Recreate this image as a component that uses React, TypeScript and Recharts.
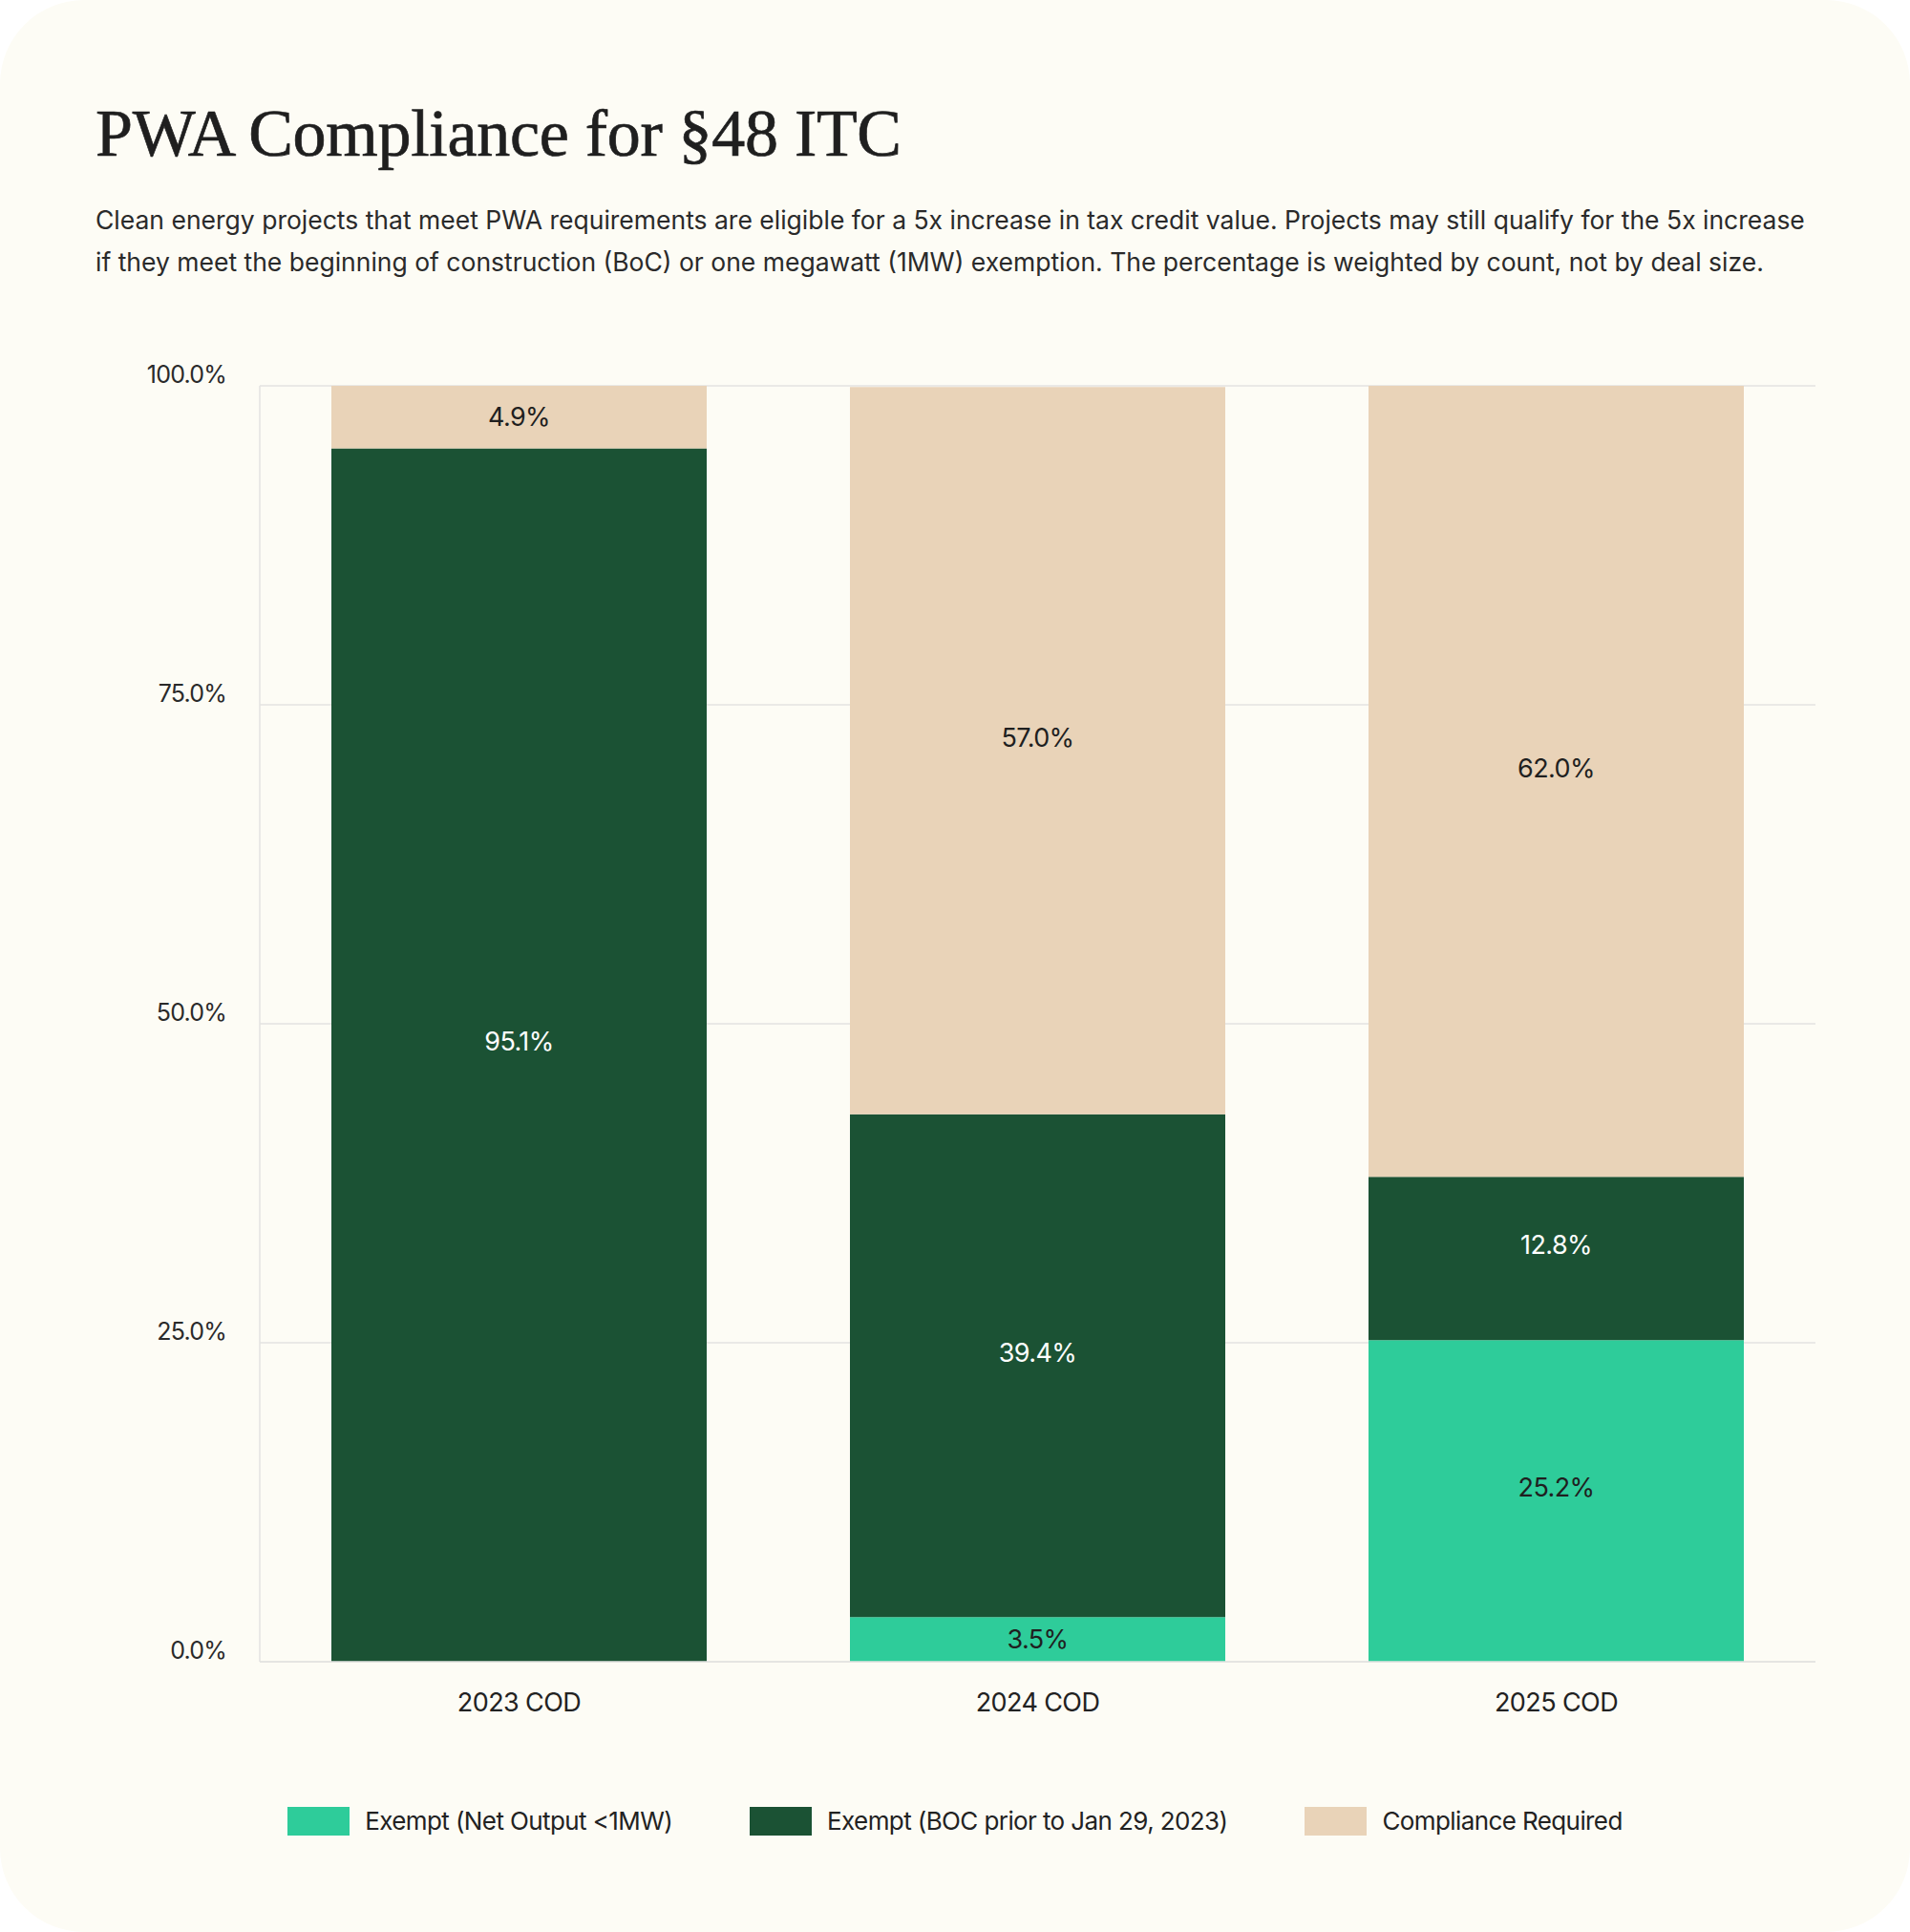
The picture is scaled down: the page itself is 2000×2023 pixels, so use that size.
import { BarChart, Bar, XAxis, YAxis, CartesianGrid, LabelList, Legend } from "recharts";

const categories = ["2023 COD", "2024 COD", "2025 COD"];
const exemptNetOutput = [0, 3.5, 25.2];
const exemptBoc = [95.1, 39.4, 12.8];
const complianceRequired = [4.9, 57.0, 62.0];
const yTicks = [0, 25, 50, 75, 100];

const seriesNames = [
  "Exempt (Net Output <1MW)",
  "Exempt (BOC prior to Jan 29, 2023)",
  "Compliance Required",
];
const seriesColors = ["#2ECC9A", "#1B5234", "#E9D3B8"];
const labelColors = ["#1f1f1f", "#ffffff", "#1f1f1f"];

const data = categories.map((name, i) => ({
  name,
  netOutput: exemptNetOutput[i],
  boc: exemptBoc[i],
  compliance: complianceRequired[i],
}));

const seriesKeys = ["netOutput", "boc", "compliance"];

const SANS = "Inter, 'Noto Sans', sans-serif";
const TEXT = "#222222";
const GRID = "#E3E3E1";

function YTick({ x, y, payload }: any) {
  return (
    <text
      x={x}
      y={y - 12}
      textAnchor="end"
      dominantBaseline="central"
      fill="#2a2a2a"
      fontSize={25}
      fontFamily={SANS}
      letterSpacing={-0.8}
    >
      {Number(payload.value).toFixed(1)}%
    </text>
  );
}

function XTick({ x, y, payload }: any) {
  return (
    <text
      x={x}
      y={y}
      textAnchor="middle"
      dominantBaseline="central"
      fill={TEXT}
      fontSize={27}
      fontFamily={SANS}
      letterSpacing={-0.6}
    >
      {payload.value}
    </text>
  );
}

function makeLabel(color: string) {
  return (props: any) => {
    const { x, y, width, height, value } = props;
    if (!value) return null;
    const lift = height > 100 ? 14 : 0;
    return (
      <text
        x={x + width / 2}
        y={y + height / 2 - lift}
        textAnchor="middle"
        dominantBaseline="central"
        fill={color}
        fontSize={27}
        fontFamily={SANS}
        letterSpacing={-0.6}
      >
        {Number(value).toFixed(1)}%
      </text>
    );
  };
}

function LegendContent() {
  return (
    <div
      style={{
        display: "flex",
        justifyContent: "center",
        alignItems: "center",
        gap: 81,
        fontFamily: SANS,
        fontSize: 26,
        color: TEXT,
        letterSpacing: -0.6,
      }}
    >
      {seriesNames.map((n, i) => (
        <div key={n} style={{ display: "flex", alignItems: "center", gap: 16 }}>
          <span
            style={{ width: 65, height: 30, background: seriesColors[i], display: "inline-block" }}
          />
          <span style={{ whiteSpace: "nowrap" }}>{n}</span>
        </div>
      ))}
    </div>
  );
}

export default function App() {
  return (
    <div style={{ width: 2000, height: 2023, position: "relative", background: "#ffffff" }}>
      <style>{`body{margin:0}`}</style>
      <div
        style={{
          position: "absolute",
          inset: 0,
          borderRadius: 88,
          background: "#FDFCF5",
          overflow: "hidden",
        }}
      >
        <div
          style={{
            position: "absolute",
            left: 100,
            top: 105,
            fontFamily: "'Liberation Serif', serif",
            fontSize: 70,
            lineHeight: "70px",
            color: "#1f1f1f",
            whiteSpace: "nowrap",
            letterSpacing: -0.3,
            WebkitTextStroke: "0.7px #1f1f1f",
          }}
        >
          PWA Compliance for §48 ITC
        </div>
        <div
          style={{
            position: "absolute",
            left: 100,
            top: 208,
            fontFamily: SANS,
            fontSize: 26.5,
            lineHeight: "44px",
            color: "#2a2a2a",
            whiteSpace: "nowrap",
            letterSpacing: 0,
          }}
        >
          Clean energy projects that meet PWA requirements are eligible for a 5x increase in tax credit value. Projects may still qualify for the 5x increase
          <br />
          if they meet the beginning of construction (BoC) or one megawatt (1MW) exemption. The percentage is weighted by count, not by deal size.
        </div>
        <div style={{ position: "absolute", left: 0, top: 340 }}>
          <BarChart
            width={2000}
            height={1683}
            data={data}
            margin={{ top: 64, right: 99, left: 0, bottom: 223 }}
            barSize={393}
          >
            <CartesianGrid vertical={false} stroke={GRID} strokeWidth={1.5} />
            <XAxis
              dataKey="name"
              axisLine={{ stroke: GRID, strokeWidth: 1.5 }}
              tickLine={false}
              tickSize={0}
              tickMargin={42}
              height={60}
              tick={<XTick />}
            />
            <YAxis
              type="number"
              domain={[0, 100]}
              ticks={yTicks}
              width={272}
              axisLine={{ stroke: GRID, strokeWidth: 1.5 }}
              tickLine={false}
              tickSize={0}
              tickMargin={35}
              tick={<YTick />}
              interval={0}
            />
            {seriesKeys.map((k, i) => (
              <Bar
                key={k}
                dataKey={k}
                name={seriesNames[i]}
                stackId="a"
                fill={seriesColors[i]}
                isAnimationActive={false}
              >
                <LabelList dataKey={k} content={makeLabel(labelColors[i])} />
              </Bar>
            ))}
            <Legend
              verticalAlign="middle"
              align="center"
              content={<LegendContent />}
              wrapperStyle={{ top: 1551, left: 0, width: 2000 }}
            />
          </BarChart>
        </div>
      </div>
    </div>
  );
}
